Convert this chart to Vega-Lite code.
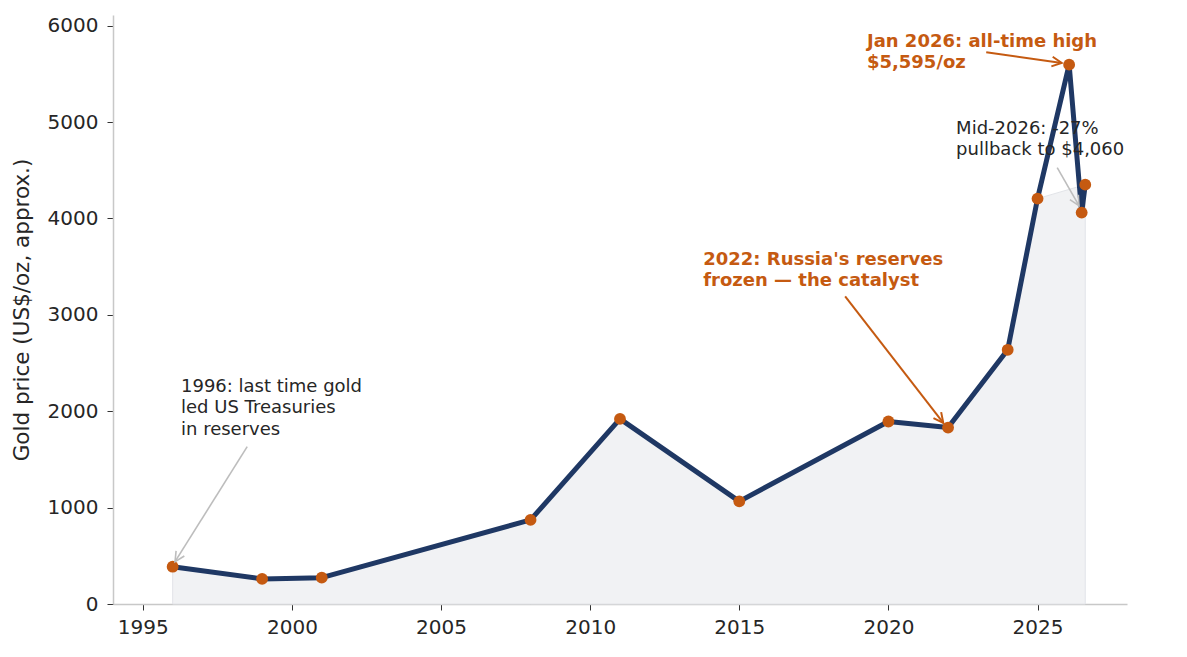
{
  "$schema": "https://vega.github.io/schema/vega-lite/v6.json",
  "autosize": {"type": "none"},
  "padding": {"left": 113, "top": 15, "right": 60, "bottom": 53},
  "width": 1014,
  "height": 589,
  "background": "white",
  "datasets": {
    "gold": [
      {"year": 1996, "price": 387, "shaded": true},
      {"year": 1999, "price": 260, "shaded": true},
      {"year": 2001, "price": 273, "shaded": true},
      {"year": 2008, "price": 872, "shaded": true},
      {"year": 2011, "price": 1920, "shaded": true},
      {"year": 2015, "price": 1065, "shaded": true},
      {"year": 2020, "price": 1893, "shaded": true},
      {"year": 2022, "price": 1830, "shaded": true},
      {"year": 2024, "price": 2637, "shaded": true},
      {"year": 2025, "price": 4205, "shaded": true},
      {"year": 2026.06, "price": 5595, "shaded": false},
      {"year": 2026.48, "price": 4060, "shaded": false},
      {"year": 2026.6, "price": 4350, "shaded": true}
    ],
    "notes": [
      {"x": 1996.28, "y": 2201, "kind": "gray", "label": "1996: last time gold\nled US Treasuries\nin reserves"},
      {"x": 2022.27, "y": 4876, "kind": "gray", "label": "Mid-2026: -27%\npullback to $4,060"},
      {"x": 2013.79, "y": 3519, "kind": "orange", "label": "2022: Russia's reserves\nfrozen — the catalyst"},
      {"x": 2019.28, "y": 5782, "kind": "orange", "label": "Jan 2026: all-time high\n$5,595/oz"}
    ],
    "arrows": [
      {"x": 1998.5, "y": 1633, "x2": 1996.08, "y2": 439, "kind": "gray"},
      {"x": 2025.66, "y": 4526, "x2": 2026.39, "y2": 4132, "kind": "gray"},
      {"x": 2018.55, "y": 3190, "x2": 2021.84, "y2": 1879, "kind": "orange"},
      {"x": 2023.28, "y": 5723, "x2": 2025.81, "y2": 5613, "kind": "orange"}
    ]
  },
  "encoding": {
    "x": {
      "field": "year",
      "type": "quantitative",
      "scale": {"domain": [1994, 2028], "nice": false, "zero": false},
      "axis": {
        "title": null,
        "values": [1995, 2000, 2005, 2010, 2015, 2020, 2025],
        "format": "d",
        "labelPadding": 7
      }
    },
    "y": {
      "field": "price",
      "type": "quantitative",
      "scale": {"domain": [0, 6110], "nice": false},
      "axis": {
        "title": "Gold price (US$/oz, approx.)",
        "values": [0, 1000, 2000, 3000, 4000, 5000, 6000],
        "format": "d",
        "labelPadding": 9,
        "titlePadding": 14
      }
    }
  },
  "layer": [
    {
      "data": {"name": "gold"},
      "transform": [{"filter": "datum.shaded"}],
      "mark": {"type": "area", "color": "#f1f2f4", "stroke": "#e2e4e8", "strokeWidth": 1},
      "encoding": {}
    },
    {
      "data": {"name": "gold"},
      "mark": {"type": "line", "color": "#1f3864", "strokeWidth": 5, "strokeJoin": "round"},
      "encoding": {}
    },
    {
      "data": {"name": "gold"},
      "mark": {"type": "circle", "color": "#c55a11", "size": 140, "opacity": 1},
      "encoding": {}
    },
    {
      "data": {"name": "arrows"},
      "mark": {"type": "rule"},
      "encoding": {
        "x": {"field": "x", "type": "quantitative"},
        "y": {"field": "y", "type": "quantitative"},
        "x2": {"field": "x2"},
        "y2": {"field": "y2"},
        "color": {"field": "kind", "type": "nominal", "scale": {"domain": ["orange", "gray"], "range": ["#c55a11", "#bdbdbd"]}, "legend": null},
        "strokeWidth": {"field": "kind", "type": "nominal", "scale": {"domain": ["orange", "gray"], "range": [2, 1.6]}, "legend": null}
      }
    },
    {
      "data": {"name": "arrows"},
      "transform": [
        {"calculate": "atan2(-(datum.y2 - datum.y) * 589 / 6110, (datum.x2 - datum.x) * 1014 / 34) * 180 / PI", "as": "ang"}
      ],
      "mark": {"type": "point", "shape": "M -1 -0.5 L 0 0 L -1 0.5", "filled": false, "size": 380, "opacity": 1},
      "encoding": {
        "x": {"field": "x2", "type": "quantitative"},
        "y": {"field": "y2", "type": "quantitative"},
        "angle": {"field": "ang", "type": "quantitative", "scale": null},
        "color": {"field": "kind", "type": "nominal", "scale": {"domain": ["orange", "gray"], "range": ["#c55a11", "#bdbdbd"]}, "legend": null},
        "strokeWidth": {"field": "kind", "type": "nominal", "scale": {"domain": ["orange", "gray"], "range": [2, 1.6]}, "legend": null}
      }
    },
    {
      "data": {"name": "notes"},
      "transform": [{"filter": "datum.kind == 'gray'"}],
      "mark": {"type": "text", "align": "left", "baseline": "alphabetic", "lineBreak": "\n", "lineHeight": 21.5, "fontSize": 18, "font": "DejaVu Sans", "color": "#262626"},
      "encoding": {
        "x": {"field": "x", "type": "quantitative"},
        "y": {"field": "y", "type": "quantitative"},
        "text": {"field": "label"}
      }
    },
    {
      "data": {"name": "notes"},
      "transform": [{"filter": "datum.kind == 'orange'"}],
      "mark": {"type": "text", "align": "left", "baseline": "alphabetic", "lineBreak": "\n", "lineHeight": 21.5, "fontSize": 18, "fontWeight": "bold", "font": "DejaVu Sans", "color": "#c55a11"},
      "encoding": {
        "x": {"field": "x", "type": "quantitative"},
        "y": {"field": "y", "type": "quantitative"},
        "text": {"field": "label"}
      }
    }
  ],
  "config": {
    "font": "DejaVu Sans",
    "view": {"stroke": null},
    "axis": {
      "grid": false,
      "domainColor": "#c8c8c8",
      "domainWidth": 1.5,
      "tickColor": "#333333",
      "tickSize": 6,
      "tickWidth": 1,
      "labelFont": "DejaVu Sans",
      "labelFontSize": 20,
      "labelColor": "#262626",
      "titleFont": "DejaVu Sans",
      "titleFontSize": 21.5,
      "titleFontWeight": "normal",
      "titleColor": "#262626"
    }
  }
}
